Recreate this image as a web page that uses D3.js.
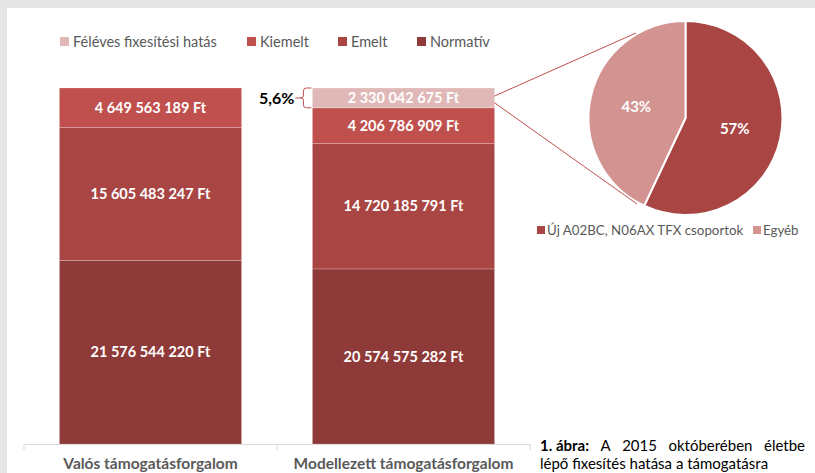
<!DOCTYPE html>
<html><head><meta charset="utf-8">
<script src="https://cdn.jsdelivr.net/npm/d3@7"></script>
<style>
html,body{margin:0;padding:0;background:#e6e6e6;}
svg{display:block;}
text{font-family:Lato,"Open Sans",sans-serif;}
</style></head>
<body>
<svg id="c" width="815" height="473"></svg>
<script>
// ---- data ----
const categories = ["Valós támogatásforgalom", "Modellezett támogatásforgalom"];
const seriesNames = ["Normatív", "Emelt", "Kiemelt", "Féléves fixesítési hatás"];
const normativ = [21576544220, 20574575282];
const emelt = [15605483247, 14720185791];
const kiemelt = [4649563189, 4206786909];
const feleves = [0, 2330042675];
const pieLabels = ["Új A02BC, N06AX TFX csoportok", "Egyéb"];
const pieValues = [57, 43];
const legendOrder = ["Féléves fixesítési hatás", "Kiemelt", "Emelt", "Normatív"];
const captionBold = "1. ábra:";
const captionLine1 = "A 2015 októberében életbe";
const captionLine2 = "lépő fixesítés hatása a támogatásra";

const colors = {"Normatív":"#8E3A38","Emelt":"#A94644","Kiemelt":"#C0504D","Féléves fixesítési hatás":"#E0B8B7"};
const pieColors = ["#A94644","#D39391"];

const svg = d3.select("#c");
svg.append("rect").attr("x",7).attr("y",8).attr("width",808).attr("height",465).attr("fill","#fff");

const rows = categories.map((c,i)=>({cat:c,"Normatív":normativ[i],"Emelt":emelt[i],"Kiemelt":kiemelt[i],"Féléves fixesítési hatás":feleves[i]}));
const stack = d3.stack().keys(seriesNames)(rows);
const total = d3.max(rows, r => seriesNames.reduce((s,k)=>s+r[k],0));

const x = d3.scaleBand().domain(categories).range([24,530]).paddingInner(0.28).paddingOuter(0.14);
const y = d3.scaleLinear().domain([0,total]).range([444,88]);

const fmt = v => d3.format(",")(v).replace(/,/g," ") + " Ft";

const g = svg.append("g");
stack.forEach(layer=>{
  const key = layer.key;
  layer.forEach((d,i)=>{
    if (d[1]-d[0] <= 0) return;
    const bx = x(categories[i]);
    g.append("rect").attr("x",bx).attr("y",y(d[1])).attr("width",x.bandwidth())
      .attr("height",y(d[0])-y(d[1])).attr("fill",colors[key])
      .attr("stroke","#fff").attr("stroke-opacity",0.25).attr("stroke-width",0.8);
    g.append("text").attr("x",bx+x.bandwidth()/2).attr("y",(y(d[0])+y(d[1]))/2)
      .attr("dy","0.36em").attr("text-anchor","middle").attr("fill","#fff")
      .attr("font-weight","bold").attr("font-size","14.5px").text(fmt(d[1]-d[0]));
  });
});

// axis
const ax = svg.append("g").attr("transform","translate(0,444)")
  .call(d3.axisBottom(x).tickSize(0).tickPadding(14));
ax.select(".domain").attr("stroke","#d9d9d9");
ax.selectAll("text").attr("font-size","15.5px").attr("font-weight","bold").attr("fill","#595959")
  .style("font-family","Lato,'Open Sans',sans-serif");
const bounds = [x.range()[0], x(categories[1]) - x.step()*x.paddingInner()/2, x.range()[1]];
bounds.forEach(b=>{
  svg.append("line").attr("x1",b).attr("x2",b).attr("y1",444).attr("y2",450).attr("stroke","#d9d9d9");
});

// legend
const legX = [60, 247, 338, 417];
legendOrder.forEach((k,i)=>{
  svg.append("rect").attr("x",legX[i]).attr("y",37).attr("width",9).attr("height",9).attr("fill",colors[k]);
  svg.append("text").attr("x",legX[i]+13).attr("y",41.5).attr("dy","0.36em").attr("font-size","14.5px")
    .attr("fill","#595959").text(k);
});

// 5,6% bracket
const b2 = x(categories[1]);
const fTop = y(stack[3][1][1]), fBot = y(stack[3][1][0]);
const mid = (fTop+fBot)/2;
const bxr = b2 - 9;
svg.append("path").attr("fill","none").attr("stroke","#C0504D").attr("stroke-width",1)
  .attr("d",`M${b2-1},${fTop} L${bxr+3},${fTop} Q${bxr},${fTop} ${bxr},${fTop+3} L${bxr},${mid-2} Q${bxr},${mid} ${bxr-3},${mid} L${bxr-8},${mid} M${bxr-3},${mid} Q${bxr},${mid} ${bxr},${mid+2} L${bxr},${fBot-3} Q${bxr},${fBot} ${bxr+3},${fBot} L${b2-1},${fBot}`);
svg.append("text").attr("x",bxr-9).attr("y",mid).attr("dy","0.36em").attr("text-anchor","end")
  .attr("font-weight","bold").attr("font-size","16px").attr("fill","#000")
  .text(d3.format(".1f")(feleves[1]/total*100).replace(".",",")+"%");

// pie
const cx = 685.5, cy = 118, r = 97;
const pie = d3.pie().sort(null)(pieValues);
const arc = d3.arc().innerRadius(0).outerRadius(r);
const pg = svg.append("g").attr("transform",`translate(${cx},${cy})`);
pg.selectAll("path").data(pie).join("path").attr("d",arc).attr("fill",(d,i)=>pieColors[i])
  .attr("stroke","#fff").attr("stroke-width",2);
const lab = d3.arc().innerRadius(r*0.52).outerRadius(r*0.52);
pg.selectAll("text").data(pie).join("text")
  .attr("transform",d=>`translate(${lab.centroid(d)})`).attr("dy","0.36em")
  .attr("text-anchor","middle").attr("fill","#fff").attr("font-weight","bold").attr("font-size","15px")
  .text(d=>d.data+"%");

// connectors
const b2r = b2 + x.bandwidth();
svg.append("line").attr("x1",b2r).attr("y1",fTop+8).attr("x2",636).attr("y2",33).attr("stroke","#C0504D").attr("stroke-width",1);
svg.append("line").attr("x1",b2r).attr("y1",fBot-5).attr("x2",637).attr("y2",204).attr("stroke","#C0504D").attr("stroke-width",1);

// pie legend
const pl = [537, 753];
pieLabels.forEach((t,i)=>{
  svg.append("rect").attr("x",pl[i]).attr("y",226).attr("width",8).attr("height",8).attr("fill",pieColors[i]);
  svg.append("text").attr("x",pl[i]+10).attr("y",230).attr("dy","0.36em").attr("font-size","13.3px")
    .attr("fill","#595959").text(t);
});

// caption
const capL = 540, capR = 805, capFs = "15px";
const words1 = [{t:captionBold,b:true}].concat(captionLine1.split(" ").map(t=>({t,b:false})));
const tmp = svg.append("g");
const widths = words1.map(w=>{
  const t = tmp.append("text").attr("font-size",capFs).attr("font-weight",w.b?"bold":"normal").text(w.t);
  return t.node().getComputedTextLength();
});
tmp.remove();
const sumW = d3.sum(widths);
const gap = (capR-capL-sumW)/(words1.length-1);
let cxp = capL;
words1.forEach((w,i)=>{
  svg.append("text").attr("x",cxp).attr("y",451).attr("font-size",capFs)
    .attr("font-weight",w.b?"bold":"normal").attr("fill","#000").text(w.t);
  cxp += widths[i]+gap;
});
svg.append("text").attr("x",capL).attr("y",469).attr("font-size",capFs).attr("fill","#000").text(captionLine2);
</script>
</body></html>
